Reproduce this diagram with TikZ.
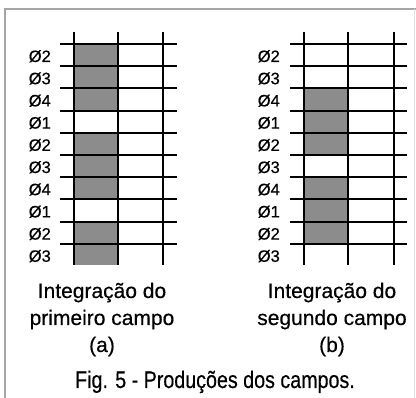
\documentclass[tikz,border=0pt]{standalone}
\usepackage{fontspec}
\setmainfont{Liberation Sans}[FakeBold=0.4]
\begin{document}
\begin{tikzpicture}[x=1pt,y=-1pt,
  gridline/.style={line width=2pt,black},
  shadecell/.style={fill=black!45},
  frameline/.style={line width=1.3pt,black!35},
  phase/.style={anchor=base east,inner sep=0pt,font=\fontsize{16.5}{18}\selectfont},
  captext/.style={anchor=base,inner sep=0pt,font=\fontsize{21}{25}\selectfont},
  figcap/.style={anchor=base,inner sep=0pt,xscale=0.82,font=\fontsize{24}{28}\selectfont}]
\useasboundingbox (0,0) rectangle (416,398);
\fill[white] (0,0) rectangle (416,398);
% frame
\draw[frameline] (5,398) -- (5,9) -- (416,9);
\draw[black!12,line width=0.8pt] (414.5,9) -- (414.5,398);
% shading (a)
\foreach \a/\b in {44/110.6,132.8/199.4,221.6/265}
  \fill[shadecell] (74,\a) rectangle (118,\b);
% shading (b)
\foreach \a/\b in {88.4/155,177.2/243.8}
  \fill[shadecell] (304,\a) rectangle (348,\b);
% grids
\foreach \x in {74,118,163} \draw[gridline] (\x,32) -- (\x,265);
\foreach \x in {304,348,394} \draw[gridline] (\x,32) -- (\x,265);
\foreach \i in {0,...,9} {
  \draw[gridline] (60,44+22.2*\i) -- (177,44+22.2*\i);
  \draw[gridline] (290,44+22.2*\i) -- (407,44+22.2*\i);
}
% labels
\foreach \t [count=\i from 0] in {2,3,4,1,2,3,4,1,2,3} {
  \node[phase] (la\i) at (51,62+22.2*\i) {Ø\t};
  \node[phase] (lb\i) at (280,62+22.2*\i) {Ø\t};
}
% captions
\node[captext] (a1) at (102,298) {Integração do};
\node[captext] (a2) at (102,325) {primeiro campo};
\node[captext] (a3) at (102,352) {(a)};
\node[captext] (b1) at (332,298) {Integração do};
\node[captext] (b2) at (332,325) {segundo campo};
\node[captext] (b3) at (332,352) {(b)};
\node[figcap] (fig) at (215,388) {Fig. 5 - Produções dos campos.};
\end{tikzpicture}
\end{document}
